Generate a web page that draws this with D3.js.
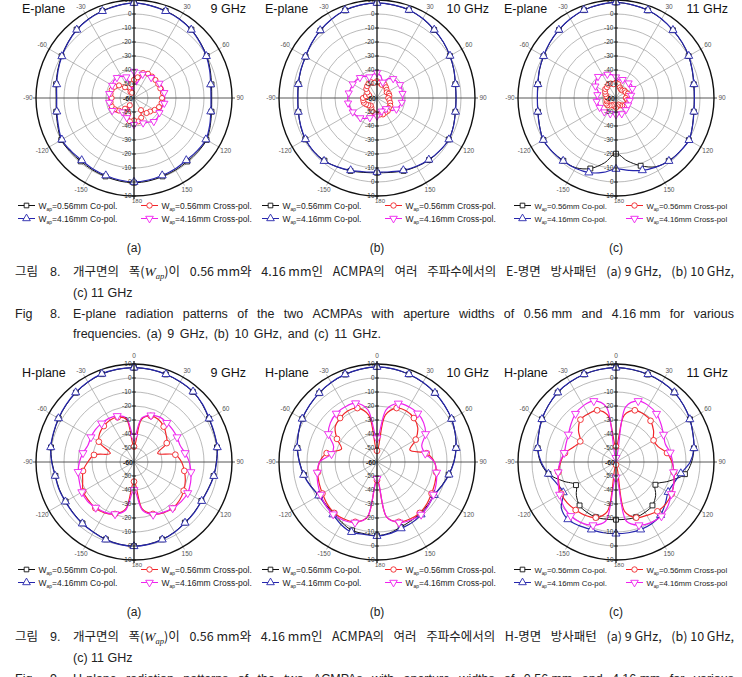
<!DOCTYPE html>
<html>
<head>
<meta charset="utf-8">
<script src="https://cdn.jsdelivr.net/npm/d3@7/dist/d3.min.js"></script>
<style>
  body { margin: 0; background: #fff; }
  svg { display: block; }
</style>
</head>
<body>
<script>
// angle of each sample, degrees clockwise from top (0 = broadside)
const angles = [0,10,20,30,40,50,60,70,80,90,100,110,120,130,140,150,160,170,
                180,190,200,210,220,230,240,250,260,270,280,290,300,310,320,330,340,350];

// E-plane, 9 GHz
const e9Co056 = [7.8,7.1,6.2,5.2,3.8,1.8,0,-2,-3.8,-4.5,-3.8,-2,-0.2,-0.4,-0.8,-0.6,-0.4,0.2,0.5,0.2,-0.4,-0.7,-0.9,-0.5,0,-2,-3.6,-4.4,-3.5,-2,-0.3,1.7,3.8,5.2,6.2,7.1];
const e9Co416 = [7.9,7,6,5,3.6,1.5,-0.3,-2.5,-4.4,-5,-4.3,-2.5,-0.7,-1.2,-1.9,-1.5,-1.1,-0.5,0,-0.5,-1.1,-1.5,-1.9,-1.2,-0.5,-2.5,-4,-4.8,-3.9,-2.3,-0.5,1.5,3.6,5,6,7];
const e9X056 = [-47,-45,-41,-40,-40,-40,-40,-40,-39,-40,-40,-41,-43,-45,-46,-50,-45,-43,-44,-43,-48,-54,-50,-46,-44,-43,-43,-44,-43,-43,-44,-46,-50,-55,-56,-50];
const e9X416 = [-41,-50,-42,-41,-41,-40,-39,-38,-38,-38,-38,-39,-39,-38,-38,-40,-41,-42,-41,-42,-45,-55,-47,-44,-42,-42,-42,-42,-42,-42,-42,-41,-41,-42,-44,-55];

// E-plane, 10 GHz
const e10Co056 = [7.8,7.4,6.8,5.4,3.5,1.9,0.1,-1.6,-3.2,-3.6,-3.2,-1.9,-0.8,-1.4,-2.2,-3.4,-4.6,-6,-6.6,-6,-4.6,-3.2,-1.6,-0.9,-0.9,-1.9,-3,-3.5,-3,-2.1,-1.1,0.9,3,4.9,6.6,7.4];
const e10Co416 = [7.9,7.5,6.9,5.5,3.6,2,0.2,-1.5,-3.1,-3.5,-3.1,-1.8,-0.7,-1.5,-2.4,-3.7,-5,-6.5,-7.1,-6.5,-5,-3.2,-1.2,-0.8,-1,-2,-2.9,-3.4,-2.9,-2,-1,1,3.1,5,6.7,7.5];
const e10X056 = [-48,-49,-50,-49,-50,-51,-52,-51,-51,-52,-51,-50,-49,-49,-48,-48,-47.5,-48,-48,-49,-50,-52,-53,-52,-51,-50,-50,-50,-52,-54,-52,-50,-49,-48,-48,-49];
const e10X416 = [-42,-44,-48,-44,-42,-41.5,-41,-41,-41.5,-41.5,-42,-43,-44,-46,-50,-52,-50,-48,-47,-48,-45,-43,-41.5,-40.5,-40,-39.5,-39,-39,-39.5,-40,-40,-40.5,-41,-42,-44,-43];

// E-plane, 11 GHz
const e11Co056 = [8.2,7.5,6.6,5.1,3.2,1.6,-0.1,-2.1,-3.6,-4.1,-3.6,-1.9,0.1,-0.6,-1.4,-3.3,-8.5,-14.5,-20.2,-13,-6.4,-2.5,-1.5,-0.6,-0.1,-1.9,-3.4,-3.9,-3.4,-1.8,-0.3,1.6,3.4,5.2,6.8,7.6];
const e11Co416 = [8.3,7.6,6.7,5.2,3.3,1.7,0,-2,-3.5,-4,-3.5,-1.8,0.2,-0.5,-1.2,-3,-5,-7.5,-9.3,-6,-3.3,-2,-1.3,-0.5,0,-1.8,-3.3,-3.8,-3.3,-1.7,-0.2,1.7,3.5,5.3,6.9,7.7];
const e11X056 = [-49,-50,-52,-53,-53,-52,-52,-51,-52,-53,-52,-51,-51,-52,-53,-54,-55,-54,-53,-54,-55,-54,-53,-52,-52,-53,-53,-54,-53,-52,-51,-50,-50,-49,-49,-50];
const e11X416 = [-45,-47,-46,-46.5,-46,-45.5,-46.5,-48,-49,-50,-50,-51,-50,-50,-49,-48.5,-48,-48,-48,-48.5,-48,-47.5,-47,-46.5,-46.5,-46.5,-46,-46,-46.5,-46.5,-43,-41,-40,-41,-42,-43];

// H-plane, 9 GHz
const h9Co056 = [7.3,7.1,6.6,6,5.4,3.8,1.8,0.8,0.2,-1.2,-2.3,-3.7,-4.4,-4,-3.5,-2.2,-1.2,-0.4,0,-0.4,-1.2,-2.2,-2.8,-3.4,-3.6,-3.2,-3,-1.4,0.2,1,2.1,3.3,4.6,5.8,6.8,7.2];
const h9Co416 = [7.4,7.2,6.7,6.2,5.6,4,2,1,0.4,-1,-2.1,-3.5,-4.2,-3.8,-3.3,-2,-1,-0.2,0.2,-0.2,-1,-2,-2.6,-3.2,-3.4,-3,-2.8,-1.2,0.4,1.2,2.3,3.5,4.8,6,7,7.3];
const h9X056 = [-49,-29,-25,-25,-27,-30,-33,-42,-30,-26,-23.5,-21,-19,-17.5,-17,-18,-20.5,-26,-46,-26,-20.5,-18,-17,-17.5,-18,-21,-23,-27,-31,-42,-31,-28,-26.5,-25.5,-26,-29];
const h9X416 = [-42,-28,-24.5,-23,-23.5,-24,-24.5,-25,-23,-20.5,-18.7,-17,-15.7,-16,-17,-18.5,-20,-25,-40,-25,-20.4,-18.5,-17.5,-16.5,-17,-18.5,-19.5,-21,-23,-25,-24.5,-24,-24,-24,-25,-28];

// H-plane, 10 GHz
const h10Co056 = [7.8,7.4,6.6,5.6,4.3,2.9,1.4,-0.6,-2.7,-5.2,-8,-10.8,-13,-12.5,-12,-11.5,-10.5,-8.5,-7.4,-8,-8,-10,-12,-12.5,-12.3,-9.7,-7,-4.7,-2.3,-0.3,1.6,2.9,4.2,5.5,6.5,7.3];
const h10Co416 = [7.9,7.5,6.7,5.7,4.4,3,1.5,-0.5,-2.6,-5,-7.8,-10.5,-12.8,-12,-11,-10,-9.5,-8,-7.1,-7.5,-6.7,-8.5,-11,-12,-12,-9.5,-6.8,-4.5,-2.1,-0.2,1.7,3,4.3,5.6,6.6,7.4];
const h10X056 = [-52,-26,-19,-18,-19,-22,-28,-35,-24,-19,-17,-16,-15,-13.5,-12.5,-13,-14.5,-20,-47,-20,-14.5,-13,-12.5,-13.5,-15,-16,-17,-19,-23.5,-33,-27,-21,-19,-18,-19,-26];
const h10X416 = [-43,-22,-15.5,-14.5,-14.7,-16.5,-20,-26,-25,-19,-16.8,-15,-13.5,-12,-11,-12,-14,-20,-48,-20,-14,-12,-11.3,-12,-13.5,-15,-16.7,-19,-27,-27,-20,-16.5,-14.8,-14.5,-15.3,-22];

// H-plane, 11 GHz
const h11Co056 = [7.4,7,6.5,5.8,4.8,3,1,-1.5,-3.5,-6,-10,-20,-27.5,-23,-19.5,-18.5,-18,-18.5,-18.8,-18.5,-18,-18.5,-19.5,-23,-27,-20,-11,-6,-3.2,-1.3,1.1,3,4.8,5.8,6.6,7.1];
const h11Co416 = [7.4,7.1,6.7,6,4.9,3,0.9,-1.5,-3.5,-7,-13,-16,-17,-14,-10.5,-9,-8.6,-8.7,-8.8,-8.7,-8.6,-7.5,-6.5,-9,-16.5,-15,-11,-6.5,-3.1,-1.2,1.1,3,4.8,5.9,6.7,7.1];
const h11X056 = [-49,-26,-20.7,-20.5,-21.6,-25,-29,-28,-23,-20,-18,-16,-14.2,-13.5,-14,-16,-17.7,-24,-58,-24,-17.7,-16,-15.2,-14.5,-14.8,-16.5,-18.2,-20.5,-23,-28,-30.5,-25,-20.5,-20.3,-20.7,-26];
const h11X416 = [-57,-20,-13.6,-13.5,-15,-18,-20.8,-22.5,-20.7,-19.5,-18.2,-16,-14.3,-11.5,-9.5,-10,-12,-17,-49,-17,-12,-10,-9.7,-11,-13.5,-16,-18,-20,-22.4,-22,-20.7,-18,-15,-13.5,-13.6,-20];

const panelPlanes = ["E-plane", "E-plane", "E-plane", "H-plane", "H-plane", "H-plane"];
const panelFreqs = ["9 GHz", "10 GHz", "11 GHz", "9 GHz", "10 GHz", "11 GHz"];
const panelTags = ["(a)", "(b)", "(c)", "(a)", "(b)", "(c)"];
const panelSeries = [
  [e9Co056, e9Co416, e9X056, e9X416],
  [e10Co056, e10Co416, e10X056, e10X416],
  [e11Co056, e11Co416, e11X056, e11X416],
  [h9Co056, h9Co416, h9X056, h9X416],
  [h10Co056, h10Co416, h10X056, h10X416],
  [h11Co056, h11Co416, h11X056, h11X416]
];

const ringTicks = [-60, -50, -40, -30, -20, -10, 0, 10];
const angleTicks = [0, 30, 60, 90, 120, 150, 180, 210, 240, 270, 300, 330];
const angleTickLabels = ["0", "30", "60", "90", "120", "150", "180", "-150", "-120", "-90", "-60", "-30"];
const legendLabels = ["=0.56mm Co-pol.", "=4.16mm Co-pol.", "=0.56mm Cross-pol.", "=4.16mm Cross-pol."];

const seriesColor = ["#111111", "#2626ad", "#f2262a", "#ee22ee"];
const seriesShape = ["square", "triUp", "circle", "triDown"];

const width = 742, height = 677;
const centersX = [134, 377, 616];
const centersY = [98, 462];
const R = 98;

const r = d3.scaleLinear().domain([-60, 10]).range([0, R]).clamp(true);
const rad = a => a * Math.PI / 180;

const svg = d3.select("body").append("svg")
    .attr("width", width)
    .attr("height", height)
    .style("font-family", "'Liberation Sans', Arial, sans-serif");

function addMarker(sel, shape, color, scale) {
    const sym = shape === "square" ? d3.symbolSquare
        : shape === "circle" ? d3.symbolCircle : d3.symbolTriangle;
    const size = (shape === "square" ? 24 : shape === "circle" ? 26 : 28) * (scale || 1);
    sel.append("path")
        .attr("d", d3.symbol(sym, size))
        .attr("transform", shape === "triDown" ? "rotate(180)" : null)
        .attr("fill", "#fff")
        .attr("stroke", color)
        .attr("stroke-width", 0.9);
}

panelSeries.forEach(function (series, p) {
    const col = p % 3, row = Math.floor(p / 3);
    const cx = centersX[col], cy = centersY[row];
    const isE = panelPlanes[p] === "E-plane";
    const g = svg.append("g").attr("transform", "translate(" + cx + "," + cy + ")");

    // grid rings
    g.selectAll("circle.ring")
        .data(ringTicks.filter(v => v > -60 && v < 10))
        .join("circle")
        .attr("r", d => r(d))
        .attr("fill", "none")
        .attr("stroke", "#9c9c9c")
        .attr("stroke-width", 0.7);

    // spokes
    g.selectAll("line.spoke")
        .data(angleTicks.filter(a => a % 90 !== 0))
        .join("line")
        .attr("x1", 0).attr("y1", 0)
        .attr("x2", d => (R + 3) * Math.sin(rad(d)))
        .attr("y2", d => -(R + 3) * Math.cos(rad(d)))
        .attr("stroke", "#9c9c9c")
        .attr("stroke-width", 0.7);

    // horizontal axis
    g.append("line")
        .attr("x1", -R - 3).attr("x2", R + 3).attr("y1", 0).attr("y2", 0)
        .attr("stroke", "#444").attr("stroke-width", 0.9);

    // outer ring
    g.append("circle").attr("r", R).attr("fill", "none")
        .attr("stroke", "#111").attr("stroke-width", 1.4);

    // angle labels (the top one falls off the page in the E row)
    g.selectAll("text.ang")
        .data(angleTicks.filter(a => !(isE && a === 0)))
        .join("text")
        .attr("x", d => d === 180 ? 3 : 106 * Math.sin(rad(d)))
        .attr("y", d => d === 0 ? -R - 6.5 : d === 180 ? R + 7.2 : -106 * Math.cos(rad(d)) + 2.3)
        .attr("text-anchor", "middle")
        .attr("font-size", d => d === 180 ? "6px" : "6.5px")
        .attr("fill", "#555")
        .text(d => angleTickLabels[angleTicks.indexOf(d)]);

    // curves
    series.forEach(function (vals, s) {
        const crossE = isE && s >= 2;
        const line = d3.lineRadial()
            .angle((d, i) => rad(angles[i]))
            .radius(d => r(d))
            .curve(crossE ? d3.curveLinearClosed : d3.curveCatmullRomClosed.alpha(0.5));
        g.append("path")
            .attr("d", line(vals))
            .attr("fill", "none")
            .attr("stroke", seriesColor[s])
            .attr("stroke-width", s === 0 ? 1 : 1.2);
    });

    // markers
    series.forEach(function (vals, s) {
        const step = (isE && s === 2) ? 1 : 2;
        const sc = (isE && s >= 2) ? 0.8 : 1;
        vals.forEach(function (v, i) {
            if (i % step !== 0) return;
            const m = g.append("g").attr("transform",
                "translate(" + (r(v) * Math.sin(rad(angles[i]))) + "," + (-r(v) * Math.cos(rad(angles[i]))) + ")");
            addMarker(m, seriesShape[s], seriesColor[s], sc);
        });
    });

    // vertical axis with radial ticks
    g.append("line")
        .attr("x1", 0).attr("x2", 0).attr("y1", -R - 3).attr("y2", R + 3)
        .attr("stroke", "#111").attr("stroke-width", 1.3);
    [-1, 1].forEach(function (dir) {
        ringTicks.filter(v => v > -60).forEach(function (v) {
            g.append("line")
                .attr("x1", -2).attr("x2", 2)
                .attr("y1", dir * r(v)).attr("y2", dir * r(v))
                .attr("stroke", "#111").attr("stroke-width", 0.8);
            g.append("text")
                .attr("x", -2.5).attr("y", dir * r(v) + 2.3)
                .attr("text-anchor", "end")
                .attr("font-size", "6.5px")
                .attr("fill", "#333")
                .text(v);
        });
    });
    g.append("text")
        .attr("x", -1).attr("y", 2.6)
        .attr("text-anchor", "end")
        .attr("font-size", "7px")
        .attr("font-weight", "bold")
        .attr("fill", "#222")
        .text(ringTicks[0]);

    // titles
    g.append("text")
        .attr("x", -112).attr("y", -85)
        .attr("font-size", "12.5px").attr("fill", "#111")
        .text(panelPlanes[p]);
    g.append("text")
        .attr("x", 112).attr("y", -85)
        .attr("text-anchor", "end")
        .attr("font-size", "12.5px").attr("fill", "#111")
        .text(panelFreqs[p]);

    // legend
    const legX1 = [-116, -115, -102][col];
    const legX2 = [7, 8, 10][col];
    const legFont = col === 2 ? 7.8 : 8.5;
    legendLabels.forEach(function (lab, s) {
        const lx = s < 2 ? legX1 : legX2;
        const ly = (s % 2 === 0) ? 107.5 : 120.5;
        const lg = g.append("g").attr("transform", "translate(" + lx + "," + ly + ")");
        lg.append("line").attr("x1", 0).attr("x2", 17).attr("y1", 0).attr("y2", 0)
            .attr("stroke", seriesColor[s]).attr("stroke-width", 1);
        const mk = lg.append("g").attr("transform", "translate(8.5,0)");
        addMarker(mk, seriesShape[s], seriesColor[s], 0.9);
        const t = lg.append("text").attr("x", 20.5).attr("y", 3)
            .attr("font-size", legFont + "px").attr("fill", "#222");
        t.append("tspan").text("W");
        t.append("tspan").attr("font-size", (legFont * 0.58) + "px").attr("dy", 2.5).text("ap");
        t.append("tspan").attr("dy", -2.5)
            .text(col === 2 && s >= 2 ? lab.replace(/\.$/, "") : lab);
    });

    // sub-caption
    g.append("text")
        .attr("x", 0).attr("y", 154)
        .attr("text-anchor", "middle")
        .attr("font-size", "12px").attr("fill", "#222")
        .text(panelTags[p]);
});

// ---------- figure captions ----------
const korean8 = ["개구면의", "폭(W_ap)이", "0.56 mm와", "4.16 mm인", "ACMPA의", "여러", "주파수에서의", "E-명면", "방사패턴", "(a) 9 GHz,", "(b) 10 GHz,"];
const korean9 = ["개구면의", "폭(W_ap)이", "0.56 mm와", "4.16 mm인", "ACMPA의", "여러", "주파수에서의", "H-명면", "방사패턴", "(a) 9 GHz,", "(b) 10 GHz,"];
const english8 = ["E-plane", "radiation", "patterns", "of", "the", "two", "ACMPAs", "with", "aperture", "widths", "of", "0.56 mm", "and", "4.16 mm", "for", "various"];
const english9 = ["H-plane", "radiation", "patterns", "of", "the", "two", "ACMPAs", "with", "aperture", "widths", "of", "0.56 mm", "and", "4.16 mm", "for", "various"];

const krFont = "'Noto Sans CJK KR', 'Noto Sans', sans-serif";
const enFont = "'Liberation Sans', Arial, sans-serif";

function richText(sel, str) {
    const parts = str.split("W_ap");
    let shift = 0;
    parts.forEach(function (part, i) {
        if (part) sel.append("tspan").attr("dy", shift || null).text(part);
        shift = 0;
        if (i < parts.length - 1) {
            sel.append("tspan")
                .attr("font-family", "'Liberation Serif', serif")
                .attr("font-style", "italic").attr("font-size", "13.5px")
                .text("W");
            sel.append("tspan")
                .attr("font-family", "'Liberation Serif', serif")
                .attr("font-style", "italic").attr("font-size", "8.5px")
                .attr("dy", 3).text("ap");
            shift = -3;
        }
    });
}

function justify(words, x0, x1, y, font) {
    const nodes = words.map(function (w) {
        const t = svg.append("text").attr("y", y)
            .attr("font-family", font).attr("font-size", "12.5px").attr("fill", "#222");
        richText(t, w);
        return t;
    });
    const widths = nodes.map(t => t.node().getComputedTextLength());
    const gap = (x1 - x0 - d3.sum(widths)) / (words.length - 1);
    let x = x0;
    nodes.forEach(function (t, i) { t.attr("x", x); x += widths[i] + gap; });
}

function plain(str, x, y, font, spacing) {
    svg.append("text").attr("x", x).attr("y", y)
        .attr("font-family", font).attr("font-size", "12.5px").attr("fill", "#222")
        .attr("word-spacing", spacing ? spacing + "px" : null)
        .text(str);
}

[[korean8, english8, "8."], [korean9, english9, "9."]].forEach(function (cap, k) {
    const off = k * 365;
    plain("그림", 15, 276 + off, krFont);
    plain(cap[2], 50, 276 + off, enFont);
    justify(cap[0], 73, 734, 276 + off, krFont);
    plain("(c) 11 GHz", 73, 297 + off, enFont);
    plain(k === 0 ? "Fig" : "Fig.", 15, 318 + off, enFont);
    plain(cap[2], 50, 318 + off, enFont);
    justify(cap[1], 73, 734, 318 + off, enFont);
    if (k === 0) plain("frequencies.  (a) 9 GHz,  (b) 10 GHz,  and  (c) 11 GHz.", 73, 338, enFont, 2);
});
</script>
</body>
</html>
